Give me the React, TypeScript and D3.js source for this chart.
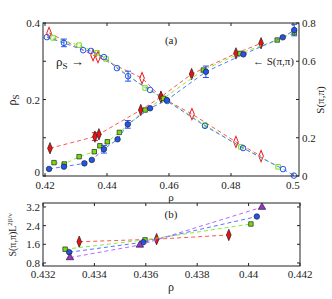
import React, { useEffect, useRef } from 'react'
import * as d3 from 'd3'

// panel (a): superfluid density rho_S (open markers, left axis)
const rhoSRed = [[0.4213, 0.374], [0.4355, 0.316], [0.4371, 0.311], [0.4513, 0.256], [0.4574, 0.206], [0.4674, 0.162], [0.4816, 0.089], [0.4897, 0.052]]
const rhoSGreen = [[0.4226, 0.361], [0.431, 0.342], [0.4368, 0.322], [0.4397, 0.306], [0.4523, 0.23], [0.4587, 0.201], [0.4716, 0.133], [0.4832, 0.076], [0.4952, 0.024]]
const rhoSBlue = [[0.4206, 0.363], [0.4261, 0.348, 0.01], [0.4323, 0.329], [0.4348, 0.327], [0.439, 0.311], [0.4432, 0.282], [0.4468, 0.261, 0.013], [0.4539, 0.225], [0.4594, 0.196], [0.4716, 0.131], [0.4839, 0.073], [0.4968, 0.018], [0.5003, 0.001]]

// panel (a): structure factor S(pi,pi) (filled markers, right axis)
const sRed = [[0.4216, 0.145], [0.4361, 0.206, 0.02], [0.4374, 0.218], [0.4509, 0.345], [0.4574, 0.413], [0.4673, 0.533], [0.4816, 0.641], [0.4897, 0.694]]
const sGreen = [[0.4229, 0.07], [0.4262, 0.063], [0.431, 0.101], [0.4359, 0.127], [0.4377, 0.158], [0.4401, 0.179], [0.444, 0.228], [0.4523, 0.345], [0.4582, 0.406], [0.4711, 0.554], [0.4829, 0.641], [0.4949, 0.711], [0.5004, 0.749]]
const sBlue = [[0.4213, 0.037], [0.4261, 0.049], [0.4327, 0.066], [0.4351, 0.084], [0.439, 0.14, 0.02], [0.4434, 0.192], [0.4467, 0.27, 0.02], [0.4539, 0.354], [0.4593, 0.397], [0.4719, 0.545, 0.03], [0.484, 0.636], [0.4967, 0.725], [0.5004, 0.763, 0.03]]

// panel (b): S(pi,pi) L^{2beta/nu}
const bRed = [[0.43341, 1.71], [0.43642, 1.82], [0.43923, 2.0]]
const bGreen = [[0.43286, 1.39], [0.43597, 1.79], [0.44009, 2.47]]
const bBlue = [[0.43302, 1.26], [0.4359, 1.69], [0.44032, 2.79]]
const bPurple = [[0.43305, 1.03], [0.43577, 1.57], [0.44052, 3.19]]

const xTicksA = [0.42, 0.44, 0.46, 0.48, 0.5]
const yTicksLeftA = [0, 0.1, 0.2, 0.3, 0.4]
const yTicksRightA = [0, 0.2, 0.4, 0.6, 0.8]
const xTicksB = [0.432, 0.434, 0.436, 0.438, 0.44, 0.442]
const yTicksB = [0.8, 1.6, 2.4, 3.2]

const RED = '#ee1111'
const GREEN = '#77dd11'
const BLUE = '#2255ee'
const PURPLE = '#9933cc'
const FONT = "'Liberation Serif', 'DejaVu Serif', serif"

const App = () => {
  const ref = useRef(null)

  useEffect(() => {
    const svg = d3.select(ref.current)
    svg.selectAll('*').remove()

    const frame = (g, x0, x1, y0, y1) => {
      g.append('rect').attr('x', x0).attr('y', y0).attr('width', x1 - x0).attr('height', y1 - y0)
        .attr('fill', 'none').attr('stroke', '#222').attr('stroke-width', 1)
    }

    const marker = (g, type, cx, cy, color, filled) => {
      const sym = { d: d3.symbolDiamond, s: d3.symbolSquare, c: d3.symbolCircle, t: d3.symbolTriangle }[type]
      const size = { d: 26, s: 20, c: 24, t: 24 }[type]
      g.append('path')
        .attr('d', d3.symbol(sym, size)())
        .attr('transform', `translate(${cx},${cy})` + (type === 'd' ? ' scale(0.85,1.2)' : ''))
        .attr('fill', filled ? color : 'none')
        .attr('stroke', filled ? '#222' : color)
        .attr('stroke-width', filled ? 0.7 : 1)
    }

    const series = (g, data, x, y, color, lineColor, type, filled) => {
      const line = d3.line().x((d) => x(d[0])).y((d) => y(d[1]))
      g.append('path').attr('d', line(data)).attr('fill', 'none')
        .attr('stroke', lineColor).attr('stroke-width', 1).attr('stroke-dasharray', '4,3')
      data.forEach((d) => {
        if (d[2]) {
          const px = x(d[0])
          g.append('line').attr('x1', px).attr('x2', px).attr('y1', y(d[1] - d[2])).attr('y2', y(d[1] + d[2]))
            .attr('stroke', color).attr('stroke-width', 1)
          ;[d[1] - d[2], d[1] + d[2]].forEach((v) => {
            g.append('line').attr('x1', px - 3).attr('x2', px + 3).attr('y1', y(v)).attr('y2', y(v))
              .attr('stroke', color).attr('stroke-width', 1)
          })
        }
        marker(g, type, x(d[0]), y(d[1]), color, filled)
      })
    }

    const text = (x, y, str, opts = {}) => {
      const t = svg.append('text').attr('x', x).attr('y', y)
        .style('font-family', FONT).attr('font-size', opts.size || 11).attr('fill', '#222')
        .attr('text-anchor', opts.anchor || 'middle')
      if (opts.rotate) t.attr('transform', `rotate(-90,${x},${y})`)
      return t.text(str)
    }

    // ---------- panel (a)
    const ax0 = 43, ax1 = 299, ay0 = 23, ay1 = 176
    const xa = d3.scaleLinear().domain([0.41935, 0.50194]).range([ax0, ax1])
    const ya = d3.scaleLinear().domain([0, 0.4]).range([ay1, ay0])
    const yaR = d3.scaleLinear().domain([0, 0.8]).range([ay1, ay0])

    const ga = svg.append('g')
    xTicksA.forEach((t) => {
      ga.append('line').attr('x1', xa(t)).attr('x2', xa(t)).attr('y1', ay1).attr('y2', ay1 - 3).attr('stroke', '#222')
      ga.append('line').attr('x1', xa(t)).attr('x2', xa(t)).attr('y1', ay0).attr('y2', ay0 + 3).attr('stroke', '#222')
      text(xa(t), ay1 + 13, d3.format('~g')(t))
    })
    yTicksLeftA.forEach((t) => {
      ga.append('line').attr('x1', ax0).attr('x2', ax0 + 3).attr('y1', ya(t)).attr('y2', ya(t)).attr('stroke', '#222')
      if (Math.round(t * 10) % 2 === 0) text(ax0 - 3, ya(t) + (t === 0 ? 0 : 4), d3.format('~g')(t), { anchor: 'end' })
    })
    yTicksRightA.forEach((t) => {
      ga.append('line').attr('x1', ax1).attr('x2', ax1 - 3).attr('y1', yaR(t)).attr('y2', yaR(t)).attr('stroke', '#222')
      if (t !== 0.4) text(ax1 + 3, yaR(t) + 4, d3.format('~g')(t), { anchor: 'start' })
    })

    series(ga, rhoSRed, xa, ya, RED, '#ff5555', 'd', false)
    series(ga, rhoSGreen, xa, ya, GREEN, '#88ee33', 's', false)
    series(ga, rhoSBlue, xa, ya, BLUE, '#5577ff', 'c', false)
    series(ga, sRed, xa, yaR, RED, '#ff5555', 'd', true)
    series(ga, sGreen, xa, yaR, GREEN, '#88ee33', 's', true)
    series(ga, sBlue, xa, yaR, BLUE, '#5577ff', 'c', true)
    frame(ga, ax0, ax1, ay0, ay1)

    text(171, 44, '(a)')
    text(171, 201, 'ρ', { size: 11 })
    const rl = text(16, 100, 'ρ', { size: 12, rotate: true })
    rl.append('tspan').attr('dy', 3).attr('font-size', 9).text('S')
    text(324, 100, 'S(π,π)', { size: 11, rotate: true })
    const ann = text(56, 66, 'ρ', { size: 13, anchor: 'start' })
    ann.append('tspan').attr('dy', 3).attr('font-size', 9).text('S')
    ann.append('tspan').attr('dy', -3).text(' →')
    text(294, 65, '← S(π,π)', { size: 11, anchor: 'end' })

    // ---------- panel (b)
    const bx0 = 43, bx1 = 300, by0 = 203, by1 = 266
    const xb = d3.scaleLinear().domain([0.432, 0.442]).range([bx0, bx1])
    const yb = d3.scaleLinear().domain([0.67, 3.37]).range([by1, by0])

    const gb = svg.append('g')
    xTicksB.forEach((t) => {
      gb.append('line').attr('x1', xb(t)).attr('x2', xb(t)).attr('y1', by1).attr('y2', by1 - 3).attr('stroke', '#222')
      gb.append('line').attr('x1', xb(t)).attr('x2', xb(t)).attr('y1', by0).attr('y2', by0 + 3).attr('stroke', '#222')
      text(xb(t), by1 + 12, d3.format('~g')(t))
    })
    yTicksB.forEach((t) => {
      gb.append('line').attr('x1', bx0).attr('x2', bx0 + 3).attr('y1', yb(t)).attr('y2', yb(t)).attr('stroke', '#222')
      gb.append('line').attr('x1', bx1).attr('x2', bx1 - 3).attr('y1', yb(t)).attr('y2', yb(t)).attr('stroke', '#222')
      text(bx0 - 3, yb(t) + 4, t.toFixed(1), { anchor: 'end' })
    })

    series(gb, bRed, xb, yb, RED, '#ff5555', 'd', true)
    series(gb, bGreen, xb, yb, GREEN, '#88ee33', 's', true)
    series(gb, bBlue, xb, yb, BLUE, '#5577ff', 'c', true)
    series(gb, bPurple, xb, yb, PURPLE, '#bb66ff', 't', true)
    frame(gb, bx0, bx1, by0, by1)

    text(171, 218, '(b)')
    text(171, 291, 'ρ', { size: 12 })
    const bl = text(16, 235, 'S(π,π)L', { size: 10, rotate: true })
    bl.append('tspan').attr('dy', -4).attr('font-size', 7).text('2β/ν')
  }, [])

  return (
    <div style={{ position: 'absolute', left: 0, top: 0 }}>
      <svg ref={ref} width={332} height={299} style={{ display: 'block', background: '#fff' }} />
    </div>
  )
}

export default App
